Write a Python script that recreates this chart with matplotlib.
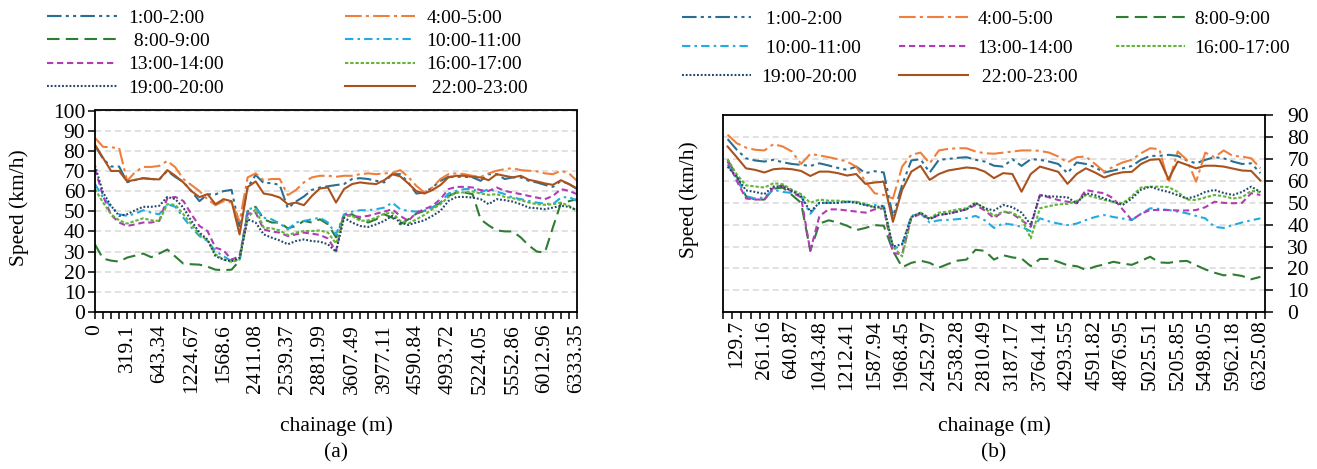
import numpy as np
import matplotlib.pyplot as plt
from matplotlib.ticker import FixedLocator

plt.rcParams['font.family'] = ['Liberation Serif', 'DejaVu Serif']
plt.rcParams['font.size'] = 15

# ---- panel (a) data: 61 chainage categories ----
a_ticklabels = ['0', '319.1', '643.34', '1224.67', '1568.6', '2411.08', '2539.37', '2881.99',
                '3607.49', '3977.11', '4590.84', '4993.72', '5224.05', '5552.86', '6012.96', '6333.35']

a_0102 = [82.6, 76, 72.2, 72.2, 64.4, 65.5, 66.4, 66, 65.8, 70, 67, 64.5, 60, 55, 58.4, 58.4, 60, 60.6, 42,
          61.8, 68, 64, 64, 63, 51.5, 54.8, 57.3, 60.6, 61.8, 62.4, 63, 63.5, 66, 66.4, 66, 65.1, 64.3, 68.4,
          68.4, 64.3, 58.8, 59.3, 61.8, 65.1, 67.1, 67.1, 67.1, 66.8, 65.1, 68.4, 68.4, 66, 66.8, 66.8, 65.1,
          64.3, 63.1, 62.1, 65.1, 63.5, 61]
a_0405 = [86.4, 82, 81.7, 81.4, 65, 69.5, 72, 72, 72.5, 75, 71.8, 66, 63, 60, 56, 53, 55, 54.3, 45, 66.8,
          68.8, 65.4, 66, 66, 58, 60.5, 64.3, 66.8, 67.6, 67.6, 67.1, 67.6, 67.6, 68.4, 68.8, 68.4, 68.8, 69,
          70.4, 67, 62.6, 59.3, 61.8, 66, 68.4, 68.8, 68.4, 67.6, 67, 68.8, 70.1, 70.9, 71.4, 70.4, 70.1,
          69.8, 68.8, 68.4, 70.1, 68.8, 65.1]
a_0809 = [33.5, 26.5, 25.5, 25, 27, 28, 29, 27.2, 29, 31, 27.5, 24, 23.7, 23.5, 22.5, 21, 20.8, 21, 25.5,
          50, 52.2, 46, 44.4, 44.4, 41.5, 42.7, 45.2, 44.4, 46, 43.5, 37, 47.7, 48.5, 46, 44.4, 46, 48.5,
          46.8, 43.5, 46, 48.8, 50.2, 51.8, 54.3, 57.6, 59.3, 59.3, 58.5, 46, 43, 40.5, 40, 40, 37, 33, 30,
          29.5, 42, 54, 55, 56]
a_1011 = [63.5, 56.8, 52.2, 48.5, 47.7, 48.8, 50.5, 49.3, 48.5, 53.5, 52.2, 46.8, 41.9, 37.7, 35.2, 30.2,
          27.7, 25.2, 26, 51, 51.8, 46.8, 46, 43.9, 41, 44.4, 45.2, 46, 46.8, 44.4, 38.5, 48.5, 49.8, 50.5,
          50.5, 51, 51.8, 54.3, 51, 50.2, 49.8, 50.2, 51.8, 54.3, 58.8, 60.1, 61, 61, 59.3, 61, 59.8, 58.5,
          56.8, 56, 55.1, 54.3, 53.8, 53.5, 56.8, 57.1, 55.1]
a_1314 = [71, 57.6, 48.2, 44.4, 42.7, 43.5, 44.4, 44.4, 45.2, 56.5, 57.1, 55.1, 48.5, 42.7, 40.2, 31.9,
          30.6, 26, 27.7, 48.8, 49.3, 41, 39.9, 39.4, 37.7, 38.5, 39.4, 38.9, 38.2, 36.5, 30.2, 48.5, 47.7,
          47.2, 47.7, 48.8, 49.8, 51, 47.7, 45.2, 49.3, 51, 52.7, 56, 61, 62.1, 62.1, 61.8, 60.5, 60.1, 61.8,
          60.1, 59.3, 58.5, 57.6, 56.8, 56, 57.6, 61, 60.1, 58.5]
a_1617 = [61, 54.3, 48.5, 45.5, 43.9, 45.2, 46.5, 45.5, 45.2, 53.5, 53.2, 48.5, 43.5, 38.5, 35.5, 28.6, 26,
          24.9, 26, 46.8, 51, 41.9, 41.5, 40.5, 38.2, 39.4, 40.2, 40.2, 40.5, 39.4, 34, 47.7, 47.7, 45.2,
          45.5, 46.8, 48.8, 49.3, 45.2, 43.9, 46, 48.2, 51, 53.5, 57.1, 59.3, 59.3, 59.8, 58.8, 58.1, 58.5,
          57.1, 56.5, 55.5, 54.3, 53.5, 53.2, 53.5, 54.3, 52.7, 50.2]
a_1920 = [72.6, 59.3, 52.7, 47.7, 48.5, 50.5, 52.2, 52.2, 52.7, 57.1, 56, 51.8, 45.2, 39.4, 36, 27.7, 26,
          25.2, 26.9, 46, 44.4, 38.5, 36.9, 35.5, 33.6, 35.2, 36, 35.2, 34.9, 33.6, 29.9, 46.8, 44.4, 42.7,
          42.2, 43.5, 45.2, 47.7, 44.4, 43.2, 44.4, 45.5, 47.7, 50.2, 55.1, 57.1, 57.1, 56.8, 56, 53.5, 56,
          55.5, 54.8, 53.5, 51.8, 51.5, 51, 51.8, 52.7, 52.2, 50.5]
a_2223 = [83, 76.5, 70, 70, 64.8, 65.6, 66.4, 66, 65.8, 70.4, 67.6, 64.3, 60, 57, 58.5, 53.5, 56, 55, 38.5,
          62, 64.8, 58.8, 58.1, 56.8, 53.5, 54.3, 53, 57.6, 61.3, 61.8, 54.3, 61, 63.5, 64.3, 63.8, 63.5,
          65.4, 68.4, 67.3, 63.8, 60, 58.8, 60.5, 63, 66.8, 67.6, 67.6, 67, 66.8, 65.4, 68.4, 67.6, 66.8,
          67.6, 65.6, 64.8, 63.8, 63.1, 65.4, 63.5, 61.3]

# ---- panel (b) data: 59 chainage categories ----
b_ticklabels = ['129.7', '261.16', '640.87', '1043.48', '1212.41', '1587.94', '1968.45', '2452.97',
                '2538.28', '2810.49', '3187.17', '3764.14', '4293.55', '4591.82', '4876.95', '5025.51',
                '5205.85', '5498.05', '5962.18', '6325.08']

b_0102 = [79.2, 74.3, 70.4, 69.4, 68.9, 69.7, 68.6, 67.8, 67.4, 66.9, 68.1, 67.1, 66, 65.1, 66.6, 63.6, 64.5,
          63.9, 43.6, 58.2, 69.4, 70, 63.9, 69.7, 70.1, 70.6, 70.9, 69.7, 68.9, 67, 66.6, 70, 66.9, 70, 69.7,
          68.9, 67.8, 63.6, 68.5, 67.8, 66.3, 63.9, 64.8, 65.8, 66.9, 69.7, 71.5, 71.5, 72, 71.5, 69.4, 68.1,
          69.7, 70.9, 70.4, 68.9, 67.8, 68.1, 63.6]
b_0405 = [81.2, 77.3, 75.3, 74.3, 74, 76.9, 75.8, 73.5, 67.8, 72.4, 71.7, 70.9, 70, 68.9, 66.6, 59.7, 54.4,
          53.6, 52, 66.6, 72, 73, 68.1, 74, 74.7, 75, 75, 73.5, 72.7, 72.5, 73, 73.5, 74, 74, 73.8, 73, 71.2,
          68.5, 70.9, 71.2, 67.8, 64.3, 66.6, 68.5, 69.7, 72.7, 75, 74.6, 59, 73.5, 69.7, 59.7, 73, 70.9, 74,
          71.5, 71.2, 70.4, 65.8]
b_0809 = [69.7, 62, 53, 51.5, 51.5, 56.5, 57, 53.6, 50, 28, 40.5, 42, 41, 39.5, 37.5, 38.5, 39.8, 39.5, 28,
          20.5, 22.5, 23.5, 22.5, 20.3, 22, 23.5, 24, 28.5, 28, 24, 26, 25, 24.5, 21, 24.3, 24.3, 23, 21.4,
          21, 19.3, 20.8, 21.8, 23, 22.2, 21.6, 23.4, 25.3, 22.7, 22.5, 23.2, 23.4, 21.4, 19.5, 18, 16.8,
          17.2, 16.5, 15, 16.1]
b_1011 = [67.5, 61, 53, 52, 52.5, 56, 55, 54.5, 53, 45, 50, 50, 50, 50.5, 50.5, 49, 49, 48.5, 28.5, 31,
          44, 45.2, 41, 42, 42.2, 42.5, 43, 44, 42, 38.5, 40.6, 40, 39, 37, 42.9, 41.5, 40.5, 39.8, 40.5,
          42.1, 43.5, 44.4, 43.5, 42.8, 42.1, 45, 47.5, 47.2, 46.7, 46, 45.2, 44, 42.9, 39, 38.5, 39.8, 41,
          42, 42.9]
b_1314 = [69, 60, 52, 51.5, 51.5, 57, 58, 55, 52.5, 28, 44, 47, 47, 46.5, 46, 45.5, 47, 47.5, 27, 26.5,
          43, 45, 42.5, 44.5, 45, 46, 47, 49, 46.5, 43, 46, 45, 42, 39, 53.6, 52.5, 51.3, 50.5, 49.8, 55.9,
          55, 54.4, 52, 47, 42.1, 45, 46.7, 46.7, 46.7, 46.5, 46.5, 46.7, 48, 50.5, 50, 49.8, 50, 54.4, 53.6]
b_1617 = [70, 63, 58, 57.5, 57, 59, 58.5, 56, 54, 50, 51.5, 51, 51, 50.5, 50.5, 49.5, 48, 47.5, 30, 25.5,
          43.5, 45.5, 43, 45.5, 46, 47, 47.5, 50, 47.5, 44, 46, 45.5, 43, 33.7, 47.5, 48.5, 49.3, 49.5, 50.8,
          53.6, 52.5, 51.3, 50.5, 49.8, 53, 57, 57.4, 57.4, 57.2, 55, 51.5, 51.3, 52.5, 53.6, 53, 52, 52.5,
          55.5, 55]
b_1920 = [66.5, 62, 55.7, 55, 54, 57.5, 57.5, 55.5, 53, 46, 50, 50, 50, 50.5, 50, 49, 48, 48.5, 30, 31,
          43.5, 45.5, 42.5, 44.5, 45, 46, 47, 50, 47.5, 46.5, 49, 48, 45.5, 40, 53.5, 53, 52.8, 52.5, 49.8,
          54.4, 53.5, 52, 50.5, 49, 52, 56, 57.4, 56, 55, 53.5, 52, 53, 55, 55.9, 54.5, 53.6, 55, 57.4, 55]
b_2223 = [75.8, 70.9, 65.8, 65.1, 63.9, 65.4, 65.7, 65.4, 64.6, 62.3, 64.3, 64.3, 63.6, 62.5, 63.2, 58.7,
          59.3, 59.7, 41.3, 55.9, 64.3, 66.9, 60.5, 63.2, 64.8, 65.5, 66.2, 65.8, 64.3, 61.3, 63.6, 63.2,
          55.1, 63.2, 66.6, 65.4, 64.2, 58.7, 63.2, 65.8, 63.9, 61.6, 63.1, 64, 64.2, 67.8, 69.7, 70, 60.8,
          68.9, 67.4, 65.8, 67, 67, 66.6, 65.7, 64.8, 64.6, 60.2]

labels = ['1:00-2:00', '4:00-5:00', '8:00-9:00', '10:00-11:00',
          '13:00-14:00', '16:00-17:00', '19:00-20:00', '22:00-23:00']
colors = ['#2A6F93', '#F07F3C', '#2E7D32', '#22ABE3', '#B33BB3', '#62B53A', '#25486B', '#A9521E']
dashes = [(7, 2, 1.5, 2, 1.5, 2), (8, 2, 1.5, 2), (6, 3), (4, 2, 1.2, 2),
          (3, 1.8), (1.6, 0.9), (0.9, 0.9), ()]

fig = plt.figure(figsize=(13.17, 4.69), dpi=100)
W, H = 1317, 469
ax_a = fig.add_axes([95 / W, 1 - 312 / H, (577 - 95) / W, (312 - 110.5) / H])
ax_b = fig.add_axes([723 / W, 1 - 312 / H, (1265 - 723) / W, (312 - 115.5) / H])


def draw(ax, series):
    lines = []
    for vals, c, d in zip(series, colors, dashes):
        x = np.arange(len(vals))
        ln, = ax.plot(x, vals, color=c, lw=1.5)
        if d:
            ln.set_dashes(d)
        lines.append(ln)
    ax.yaxis.grid(True, color='#D9D9D9', linestyle=(0, (4, 2.5)), lw=1.1)
    ax.set_axisbelow(True)
    for s in ax.spines.values():
        s.set_linewidth(1.3)
    ax.tick_params(axis='both', direction='out', width=1.1, labelsize=15.5)
    return lines


lines_a = draw(ax_a, [a_0102, a_0405, a_0809, a_1011, a_1314, a_1617, a_1920, a_2223])
n_a = len(a_0102)
ax_a.set_xlim(0, n_a - 1)
ax_a.set_ylim(0, 100)
ax_a.set_yticks(np.arange(0, 101, 10))
ax_a.xaxis.set_major_locator(FixedLocator(np.arange(0, n_a, 4)))
ax_a.set_xticklabels(a_ticklabels, rotation=90)
ax_a.xaxis.set_minor_locator(FixedLocator(np.arange(0, n_a)))
ax_a.tick_params(axis='x', which='both', length=5, width=1.1)
ax_a.tick_params(axis='y', length=5, pad=2)

lines_b = draw(ax_b, [b_0102, b_0405, b_0809, b_1011, b_1314, b_1617, b_1920, b_2223])
n_b = len(b_0102)
ax_b.set_xlim(-0.5, n_b - 0.5)
ax_b.set_ylim(0, 90)
ax_b.set_yticks(np.arange(0, 91, 10))
ax_b.yaxis.tick_right()
ax_b.tick_params(axis='y', length=6, pad=10)
ax_b.xaxis.set_major_locator(FixedLocator(np.arange(1, n_b, 3)))
ax_b.set_xticklabels(b_ticklabels, rotation=90)
ax_b.tick_params(axis='x', which='major', length=0, pad=6)
ax_b.xaxis.set_minor_locator(FixedLocator(np.arange(-0.5, n_b, 1)))
ax_b.tick_params(axis='x', which='minor', length=5, width=1.1)

# axis titles and panel tags
fig.text(336 / W, 1 - 426 / H, 'chainage (m)', ha='center', va='center', fontsize=15.5)
fig.text(336 / W, 1 - 453 / H, '(a)', ha='center', va='center', fontsize=15.5)
fig.text(994 / W, 1 - 426 / H, 'chainage (m)', ha='center', va='center', fontsize=15.5)
fig.text(994 / W, 1 - 453 / H, '(b)', ha='center', va='center', fontsize=15.5)
fig.text(19 / W, 1 - 208 / H, 'Speed (km/h)', rotation=90, ha='center', va='center', fontsize=15.5)
fig.text(689 / W, 1 - 200 / H, 'Speed (km/h)', rotation=90, ha='center', va='center', fontsize=15.5)

# legends (row-major order as in the source figure)
lab_a = ['1:00-2:00', '4:00-5:00', ' 8:00-9:00', '10:00-11:00',
         '13:00-14:00', '16:00-17:00', '19:00-20:00', ' 22:00-23:00']
order_a = [0, 2, 4, 6, 1, 3, 5, 7]
fig.legend([lines_a[i] for i in order_a], [lab_a[i] for i in order_a], ncol=2,
           loc='upper left', bbox_to_anchor=(47 / W, 1 - 9 / H), frameon=False,
           handlelength=3.6, handletextpad=0.6, columnspacing=6.2, labelspacing=0.3,
           borderpad=0, borderaxespad=0, fontsize=14)

lab_b = [' 1:00-2:00', '4:00-5:00', '8:00-9:00', ' 10:00-11:00',
         '13:00-14:00', '16:00-17:00', '19:00-20:00', ' 22:00-23:00']
order_b = [0, 3, 6, 1, 4, 7, 2, 5]
fig.legend([lines_b[i] for i in order_b], [lab_b[i] for i in order_b], ncol=3,
           loc='upper left', bbox_to_anchor=(682 / W, 1 - 10 / H), frameon=False,
           handlelength=3.55, handletextpad=0.5, columnspacing=1.95, labelspacing=0.6,
           borderpad=0, borderaxespad=0, fontsize=14)

fig.savefig('out.png', dpi=100)
